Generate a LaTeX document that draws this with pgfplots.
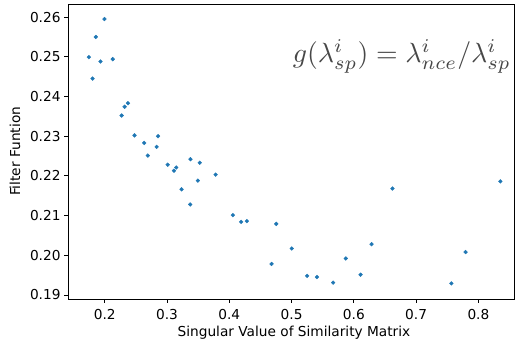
\documentclass[border=0pt]{standalone}
\usepackage{pgfplots}
\pgfplotsset{compat=1.18}
\usepackage{fontspec}
\setmainfont{DejaVu Sans}
\definecolor{mplblue}{HTML}{1F77B4}
\begin{document}
\begin{tikzpicture}
\begin{axis}[
  name=ax,
  scale only axis,
  width=449pt, height=297pt,
  xmin=0.141, xmax=0.857,
  ymin=0.1890, ymax=0.2633,
  xtick={0.2,0.3,0.4,0.5,0.6,0.7,0.8},
  ytick={0.19,0.20,0.21,0.22,0.23,0.24,0.25,0.26},
  xticklabel style={/pgf/number format/fixed,/pgf/number format/precision=1, yshift=-2.5pt},
  yticklabel style={/pgf/number format/fixed,/pgf/number format/fixed zerofill,/pgf/number format/precision=2},
  /pgf/number format/assume math mode=true,
  tick align=outside,
  tick pos=left,
  major tick length=4pt,
  every tick/.style={black, line width=0.8pt},
  axis line style={line width=0.8pt},
  tick label style={font=\fontsize{13.8}{16}\selectfont},
  label style={font=\fontsize{13.8}{16}\selectfont},
  xlabel={Singular Value of Similarity Matrix},
  ylabel={Filter Funtion},
  xlabel style={yshift=0pt, xshift=3pt},
  ylabel style={yshift=3pt},
  clip=false,
]
\addplot[only marks, mark=*, mark size=1.9pt, mplblue, mark options={draw=mplblue, fill=mplblue}] coordinates {
(0.1995,0.2595) (0.1856,0.2550) (0.1745,0.2499) (0.1931,0.2488) (0.2128,0.2494)
(0.1804,0.2445) (0.2372,0.2383) (0.2319,0.2374) (0.2271,0.2352)
(0.2478,0.2302) (0.2856,0.2300) (0.2633,0.2283) (0.2834,0.2273) (0.2691,0.2251)
(0.3010,0.2228) (0.3148,0.2221) (0.3111,0.2213) (0.3376,0.2242) (0.3525,0.2233)
(0.3780,0.2203) (0.3494,0.2188) (0.3233,0.2166) (0.3372,0.2128) (0.4057,0.2101)
(0.4190,0.2084) (0.4281,0.2086)
(0.4754,0.2079) (0.5003,0.2017) (0.4679,0.1978) (0.5249,0.1948) (0.5408,0.1945)
(0.5668,0.1931) (0.5870,0.1992) (0.6108,0.1951) (0.6284,0.2028) (0.6620,0.2168)
(0.7566,0.1929) (0.7794,0.2008) (0.8352,0.2186)
};
\node[scale=2.8, text=black!72] at (axis cs:0.677,0.2500) {$g(\lambda^i_{sp}) = \lambda^i_{nce}/\lambda^i_{sp}$};
\end{axis}
\path ([xshift=-68.5pt,yshift=-42pt]ax.south west) rectangle ([xshift=3pt,yshift=4pt]ax.north east);
\end{tikzpicture}
\end{document}
